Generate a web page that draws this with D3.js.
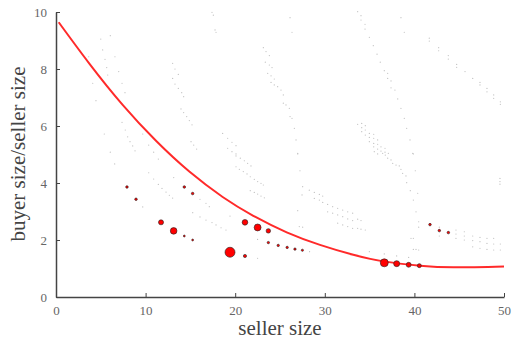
<!DOCTYPE html>
<html><head><meta charset="utf-8">
<script src="https://cdn.jsdelivr.net/npm/d3@7"></script>
<style>html,body{margin:0;padding:0;background:#fff;}svg{display:block;}</style>
</head><body>
<script>
// Fitted curve
const curveX = [0.3, 3.72, 7.44, 11.16, 14.88, 18.6, 22.02, 25.75, 29.46, 33.18, 36.53, 40.63, 44.34, 50];
const curveY = [9.64, 8.19, 6.74, 5.48, 4.40, 3.51, 2.85, 2.27, 1.83, 1.48, 1.25, 1.10, 1.04, 1.07];

// Weighted observations (red circles / dark dots)
const obsX = [11.72, 13.13, 19.42, 21.09, 22.5, 23.7, 21.09, 36.64, 38.02, 39.36, 40.55,
  7.92, 8.93, 14.32, 15.25, 14.32, 15.25, 23.7, 24.8, 25.8, 26.67, 27.5, 41.74, 42.78, 43.79];
const obsY = [2.62, 2.32, 1.57, 2.62, 2.44, 2.32, 1.44, 1.20, 1.17, 1.13, 1.10,
  3.86, 3.43, 3.86, 3.63, 2.14, 2.0, 1.91, 1.81, 1.74, 1.68, 1.64, 2.54, 2.33, 2.26];
const obsW = [6.3, 11, 25, 8, 12, 5, 2.5, 16, 9, 6, 4,
  1.6, 1.6, 1.6, 1.6, 0.9, 0.9, 1.4, 1.4, 1.4, 1.4, 1.2, 1.6, 1.6, 1.6];

// Faint grid of low-weight observations
const faintX = [5.0,6.06,5.21,5.47,6.58,3.65,5.66,5.77,7.0,4.10,7.37,7.70,4.46,7.37,7.73,5.39,8.0,8.26,8.56,8.82,9.68,10.35,10.9,6.06,
 13.02,13.28,13.65,13.02,13.28,13.65,14.03,14.25,13.95,14.25,14.59,14.88,15.18,15.07,15.37,15.70,
 6.55,11.42,10.35,10.9,11.42,11.83,12.28,12.65,13.02,13.14,16.07,15.26,16.07,9.68,
 17.41,17.56,17.75,17.86,26.12,26.34,23.14,23.44,23.81,23.36,23.81,24.11,23.63,24.0,24.36,24.0,24.36,24.74,25.11,25.37,25.37,25.67,26.04,26.12,26.34,26.6,26.79,26.98,
 18.6,19.16,19.64,20.09,19.16,19.64,20.09,
 20.09,20.57,21.02,21.39,21.76,20.09,20.46,20.9,21.32,21.68,22.13,22.51,22.88,23.14,21.68,22.13,22.51,22.88,23.25,
 16.74,17.11,16.74,17.41,17.86,18.42,18.97,19.42,26.98,27.23,27.53,27.46,26.98,27.15,27.53,
 28.27,28.83,29.39,29.77,28.83,29.39,29.77,30.32,30.88,31.44,32.0,32.56,33.11,30.32,30.88,31.44,32.0,32.56,33.11,31.44,32.0,32.56,33.11,
 33.67,34.04,34.04,34.49,34.49,34.97,35.41,35.83,36.19,36.64,37.02,37.02,37.39,37.39,37.83,38.14,38.5,38.87,39.14,39.51,39.81,38.5,38.87,
 41.66,41.66,42.71,42.71,43.78,43.78,44.72,44.72,45.65,46.51,47.32,47.32,48.1,48.1,48.85,48.85,49.59,49.59,
 33.67,34.12,34.12,34.52,34.12,34.52,34.97,34.52,34.97,35.46,35.46,34.97,35.46,35.9,35.9,35.46,35.9,36.27,36.27,36.72,36.72,37.09,
 35.52,35.9,36.46,36.75,37.02,37.39,37.58,37.95,38.31,38.5,38.69,39.06,39.14,39.88,40.1,39.54,39.88,40.37,40.18,40.48,40.48,
 33.67,34.04,33.67,34.04,34.52,39.62,39.88,39.88,40.18,40.48,34.97,36.64,38.02,39.36,28.3,22.5,22.5,
 42.78,42.78,44.64,44.64,44.64,45.57,45.57,45.57,46.51,46.51,46.51,47.32,47.32,47.32,48.1,48.1,48.1,48.85,48.85,48.85,49.59,49.59,49.55,49.55,49.55];
const faintY = [9.05,9.17,8.67,8.34,8.43,8.43,8.05,7.79,7.91,7.50,7.50,7.17,6.89,6.13,5.86,5.72,5.62,5.45,5.30,5.13,5.72,5.33,5.08,5.08,
 8.20,8.0,7.81,7.67,7.47,7.32,7.17,7.03,6.60,6.47,6.33,6.19,6.04,5.45,5.33,5.19,
 4.67,4.84,4.36,4.14,3.95,3.81,3.68,3.57,3.47,4.19,3.43,2.96,2.81,3.16,
 9.99,9.89,9.37,9.29,9.80,9.29,8.75,8.61,8.47,8.24,8.14,8.05,7.85,7.76,7.65,7.53,7.44,7.38,7.26,7.09,6.80,6.74,6.62,6.33,6.27,5.92,5.51,5.04,
 5.74,5.57,5.43,5.31,5.22,5.10,5.02,
 4.95,4.87,4.78,4.69,4.60,4.57,4.48,4.40,4.32,4.22,4.13,4.05,3.99,3.93,3.73,3.67,3.61,3.54,3.48,
 3.29,3.17,2.70,2.61,2.53,2.43,2.35,2.84,5.02,4.43,3.87,3.58,3.03,2.47,2.45,
 3.75,3.67,3.60,3.54,3.46,3.40,3.32,3.25,3.17,3.11,3.05,2.99,2.94,2.99,2.94,2.88,2.82,2.74,2.68,2.59,2.53,2.47,2.41,
 10.01,9.87,9.72,9.57,9.40,9.11,8.82,8.52,8.24,7.94,7.85,7.67,7.58,7.34,7.26,6.95,6.62,6.27,5.92,5.51,5.04,9.80,9.29,
 9.08,8.98,8.75,8.64,8.47,8.35,8.16,8.06,7.91,7.67,7.53,7.44,7.32,7.20,7.09,6.97,6.85,6.76,
 6.06,6.09,5.94,6.01,5.80,5.86,5.74,5.68,5.60,5.71,5.57,5.45,5.39,5.51,5.36,5.27,5.19,5.27,5.12,5.22,5.08,5.04,
 5.10,5.02,5.04,4.98,4.87,4.81,4.69,4.63,4.60,4.48,4.34,4.25,4.01,5.02,4.43,3.73,3.40,3.64,2.99,2.64,2.45,
 2.73,2.68,2.41,2.38,2.35,2.06,2.06,1.67,1.67,1.65,1.59,1.51,1.44,1.39,1.59,2.02,1.36,
 2.45,2.14,2.35,2.21,2.06,2.29,2.14,2.0,2.14,1.98,1.76,2.09,1.94,1.71,2.06,1.88,1.67,2.06,1.86,1.65,1.86,1.65,4.16,4.05,3.96];

const xTicks = [0, 10, 20, 30, 40, 50];
const yTicks = [0, 2, 4, 6, 8, 10];

const W = 512, H = 340;
const margin = {left: 56, right: 8, top: 12, bottom: 43};
const svg = d3.select("body").append("svg").attr("width", W).attr("height", H);

const x = d3.scaleLinear().domain([0, 50]).range([margin.left, W - margin.right]);
const y = d3.scaleLinear().domain([0, 10]).range([H - margin.bottom, margin.top]);
const r = d3.scaleSqrt().domain([0, 25]).range([0, 5]);

const font = "'Liberation Serif', 'DejaVu Serif', serif";

// faint points
svg.append("g").selectAll("circle").data(d3.range(faintX.length)).join("circle")
  .attr("cx", i => x(faintX[i])).attr("cy", i => y(faintY[i]))
  .attr("r", 0.6).attr("fill", "#bdbdbd");

// curve
const line = d3.line().x(i => x(curveX[i])).y(i => y(curveY[i])).curve(d3.curveNatural);
svg.append("path").datum(d3.range(curveX.length)).attr("d", line)
  .attr("fill", "none").attr("stroke", "#ff2a2a").attr("stroke-width", 2);

// observations
svg.append("g").selectAll("circle").data(d3.range(obsX.length)).join("circle")
  .attr("cx", i => x(obsX[i])).attr("cy", i => y(obsY[i]))
  .attr("r", i => r(obsW[i])).attr("fill", "#ff0000")
  .attr("stroke", "#222").attr("stroke-width", 0.6);

// axes
const xAxis = d3.axisBottom(x).tickValues(xTicks).tickSizeInner(-4).tickSizeOuter(0).tickPadding(9);
const gx = svg.append("g").attr("transform", `translate(0,${H - margin.bottom})`).call(xAxis);
const yAxis = d3.axisLeft(y).tickValues(yTicks).tickSizeInner(-4).tickSizeOuter(0).tickPadding(9);
const gy = svg.append("g").attr("transform", `translate(${margin.left},0)`).call(yAxis);
[gx, gy].forEach(g => {
  g.select(".domain").attr("stroke", "#444").attr("stroke-width", 1.5);
  g.selectAll(".tick line").attr("stroke", "#444").attr("stroke-width", 1);
  g.selectAll(".tick text").attr("fill", "#666").attr("font-family", font).attr("font-size", 13);
});

svg.append("text").attr("x", (margin.left + W - margin.right) / 2).attr("y", 335)
  .attr("text-anchor", "middle").attr("font-family", font).attr("font-size", 21).attr("fill", "#444")
  .text("seller size");
svg.append("text").attr("transform", `translate(25,154) rotate(-90)`)
  .attr("text-anchor", "middle").attr("font-family", font).attr("font-size", 21).attr("fill", "#444")
  .text("buyer size/seller size");
</script>
</body></html>
